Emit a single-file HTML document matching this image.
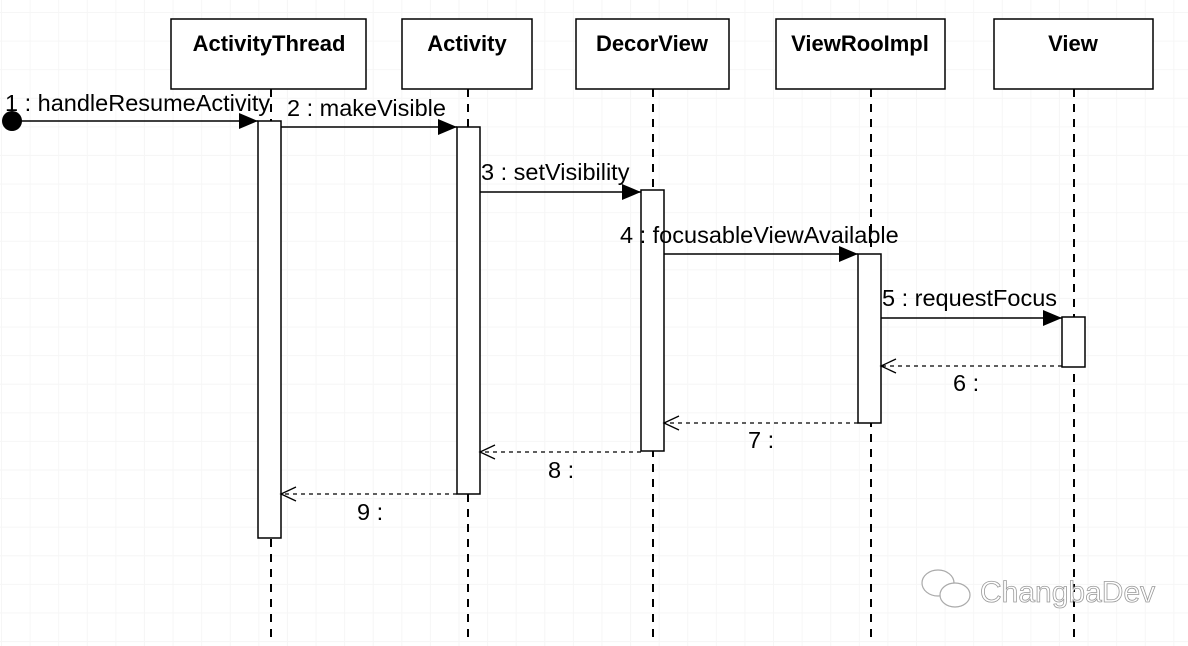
<!DOCTYPE html>
<html><head><style>
html,body{margin:0;padding:0;background:#fff;}
body{width:1188px;height:646px;overflow:hidden;
background-image:linear-gradient(#f6f6f6 1px,transparent 1px),linear-gradient(90deg,#f6f6f6 1px,transparent 1px);
background-size:28.6px 28.6px;background-position:1px 12px;}
text{font-family:"Liberation Sans",sans-serif;}
</style></head><body>
<svg width="1188" height="646" xmlns="http://www.w3.org/2000/svg" style="position:absolute;left:0;top:0">
<defs>
<marker id="f" markerWidth="20" markerHeight="16" refX="19" refY="8" orient="auto" markerUnits="userSpaceOnUse"><path d="M0,0 L19,8 L0,16 z" fill="#000"/></marker>
<marker id="o" markerWidth="20" markerHeight="16" refX="16" refY="8" orient="auto" markerUnits="userSpaceOnUse"><path d="M1,1 L16,8 L1,15" fill="none" stroke="#000" stroke-width="1.3"/></marker>
</defs>
<g stroke="#000" stroke-width="2" stroke-dasharray="8,7">
<line x1="271" y1="89" x2="271" y2="640"/>
<line x1="468" y1="89" x2="468" y2="640"/>
<line x1="653" y1="89" x2="653" y2="640"/>
<line x1="871" y1="89" x2="871" y2="640"/>
<line x1="1074" y1="89" x2="1074" y2="640"/>
</g>
<g fill="#fff" stroke="#000" stroke-width="1.5">
<rect x="171" y="19" width="195" height="70"/>
<rect x="402" y="19" width="130" height="70"/>
<rect x="576" y="19" width="153" height="70"/>
<rect x="776" y="19" width="169" height="70"/>
<rect x="994" y="19" width="159" height="70"/>
<rect x="258" y="121" width="23" height="417"/>
<rect x="457" y="127" width="23" height="367"/>
<rect x="641" y="190" width="23" height="261"/>
<rect x="858" y="254" width="23" height="169"/>
<rect x="1062" y="317" width="23" height="50"/>
</g>
<g font-weight="bold" font-size="22" text-anchor="middle">
<text x="269" y="51">ActivityThread</text>
<text x="467" y="51">Activity</text>
<text x="652" y="51">DecorView</text>
<text x="860" y="51">ViewRooImpl</text>
<text x="1073" y="51">View</text>
</g>
<circle cx="12" cy="121" r="10" fill="#000"/>
<g stroke="#000" stroke-width="1.5">
<line x1="12" y1="121" x2="258" y2="121" marker-end="url(#f)"/>
<line x1="281" y1="127" x2="457" y2="127" marker-end="url(#f)"/>
<line x1="480" y1="192" x2="641" y2="192" marker-end="url(#f)"/>
<line x1="664" y1="254" x2="858" y2="254" marker-end="url(#f)"/>
<line x1="881" y1="318" x2="1062" y2="318" marker-end="url(#f)"/>
</g>
<g stroke="#000" stroke-width="1.3" stroke-dasharray="4,4">
<line x1="1062" y1="366" x2="881" y2="366" marker-end="url(#o)"/>
<line x1="858" y1="423" x2="664" y2="423" marker-end="url(#o)"/>
<line x1="641" y1="452" x2="480" y2="452" marker-end="url(#o)"/>
<line x1="457" y1="494" x2="281" y2="494" marker-end="url(#o)"/>
</g>
<g font-size="23.5">
<text x="5" y="111">1 : handleResumeActivity</text>
<text x="287" y="116">2 : makeVisible</text>
<text x="481" y="180">3 : setVisibility</text>
<text x="620" y="243">4 : focusableViewAvailable</text>
<text x="882" y="306">5 : requestFocus</text>
<text x="953" y="391">6 :</text>
<text x="748" y="448">7 :</text>
<text x="548" y="478">8 :</text>
<text x="357" y="520">9 :</text>
</g>
<g fill="#fff" stroke="#aaa" stroke-width="1.2">
<ellipse cx="938" cy="583" rx="16" ry="13"/>
<ellipse cx="955" cy="595" rx="15" ry="12"/>
</g>
<text x="980" y="602" font-size="30" fill="#fff" stroke="#999" stroke-width="0.8">ChangbaDev</text>
</svg>
</body></html>
